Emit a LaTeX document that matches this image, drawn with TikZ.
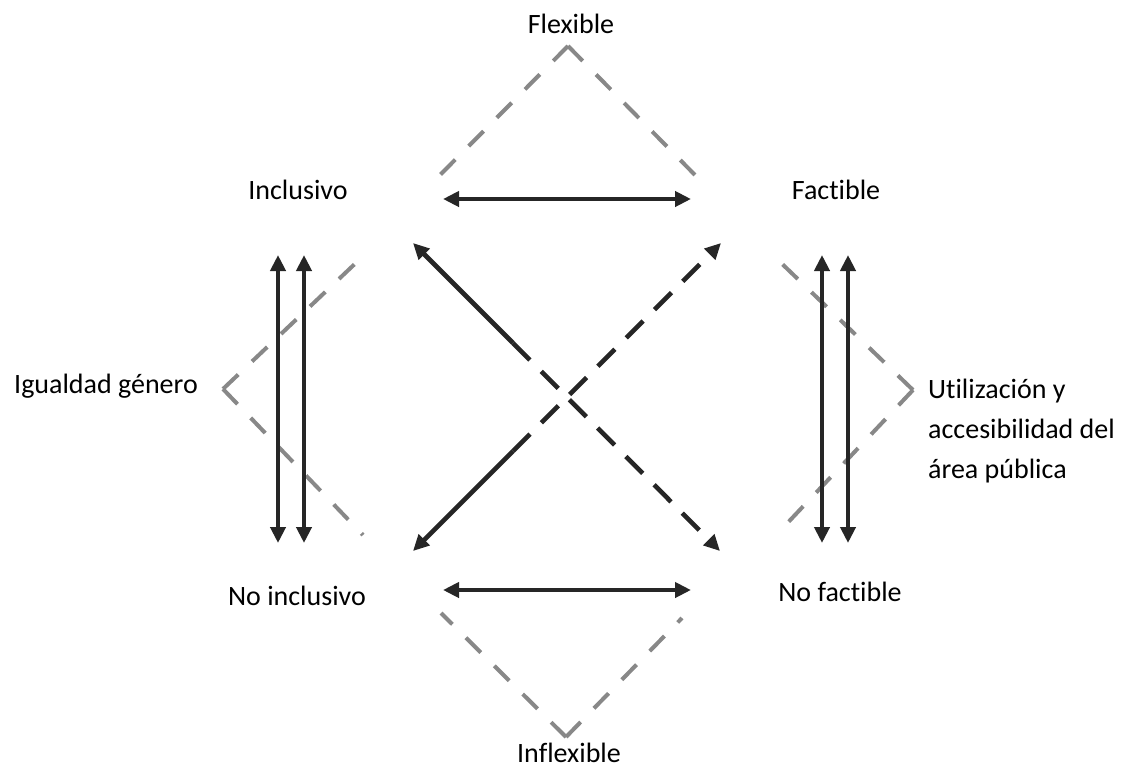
\documentclass[tikz,border=0pt]{standalone}
\usepackage{fontspec}
\setmainfont{Carlito}[Ligatures=NoCommon]
\usetikzlibrary{arrows.meta}
\begin{document}
\begin{tikzpicture}[x=1pt,y=-1pt,
  lbl/.style={font=\fontsize{28}{40}\selectfont, inner sep=0pt, anchor=base},
  link/.style={line width=4.8pt, draw={rgb,255:red,38;green,38;blue,38},
    arrows={Triangle[length=16pt,width=15pt]-Triangle[length=16pt,width=15pt]}},
  halfsolid/.style={line width=4.6pt, draw={rgb,255:red,38;green,38;blue,38},
    arrows={Triangle[length=16pt,width=15pt]-}},
  halfdash/.style={line width=4.6pt, draw={rgb,255:red,38;green,38;blue,38},
    dash pattern=on 24pt off 16pt, arrows={-Triangle[length=16pt,width=15pt]}},
  guide/.style={line width=4pt, draw={rgb,255:red,136;green,136;blue,136},
    dash pattern=on 21pt off 19pt}]
\useasboundingbox (0,0) rectangle (1124,769);

% labels
\node[lbl] (flex)    at (571,33)  {Flexible};
\node[lbl] (incl)    at (298,199) {Inclusivo};
\node[lbl] (fact)    at (836,199) {Factible};
\node[lbl] (igual)   at (106,393) {Igualdad género};
% the base anchor of a multi-line node sits on its last line
\node[lbl, anchor=base west, align=left] (util) at (928,478)
  {Utilización y\\accesibilidad del\\área pública};
\node[lbl] (noincl)  at (297,605) {No inclusivo};
\node[lbl] (nofact)  at (840,601) {No factible};
\node[lbl] (inflex)  at (569,762) {Inflexible};

% arrow end points
\coordinate (hTopL) at (443,199);  \coordinate (hTopR) at (691,199);
\coordinate (hBotL) at (443,590);  \coordinate (hBotR) at (691,590);
\coordinate (lA1) at (278,255);    \coordinate (lA2) at (278,543);
\coordinate (lB1) at (304,255);    \coordinate (lB2) at (304,543);
\coordinate (rA1) at (822,255);    \coordinate (rA2) at (822,543);
\coordinate (rB1) at (848,255);    \coordinate (rB2) at (848,543);
\coordinate (dTL) at (413,243);    \coordinate (dBR) at (720,551);
\coordinate (dBL) at (413,551);    \coordinate (dTR) at (721,243);
\coordinate (mA) at (513,343);     \coordinate (mB) at (513,451);

% guide end points
\coordinate (gTopL) at (440,175);  \coordinate (gTop) at (568,46);  \coordinate (gTopR) at (695,175);
\coordinate (gBotL) at (441,613);  \coordinate (gBot) at (566,737); \coordinate (gBotR) at (682,618);
\coordinate (gLU) at (360,259);    \coordinate (gL) at (223,389);   \coordinate (gLD) at (363,535);
\coordinate (gRU) at (777,259);    \coordinate (gR) at (913,390);   \coordinate (gRD) at (778,533);

% dashed grey guides
\draw[guide] (gTop) -- (gTopL);
\draw[guide] (gTop) -- (gTopR);
\draw[guide] (gBot) -- (gBotL);
\draw[guide] (gBot) -- (gBotR);
\draw[guide] (gL) -- (gLU);
\draw[guide] (gL) -- (gLD);
\draw[guide] (gR) -- (gRU);
\draw[guide] (gR) -- (gRD);

% double arrows
\draw[link] (hTopL) -- (hTopR);
\draw[link] (hBotL) -- (hBotR);
\draw[link] (lA1) -- (lA2);
\draw[link] (lB1) -- (lB2);
\draw[link] (rA1) -- (rA2);
\draw[link] (rB1) -- (rB2);

% crossing arrows: solid first part, dashed rest
\draw[halfsolid] (dTL) -- (mA);
\draw[halfdash]  (mA) -- (dBR);
\draw[halfsolid] (dBL) -- (mB);
\draw[halfdash]  (mB) -- (dTR);
\end{tikzpicture}
\end{document}
